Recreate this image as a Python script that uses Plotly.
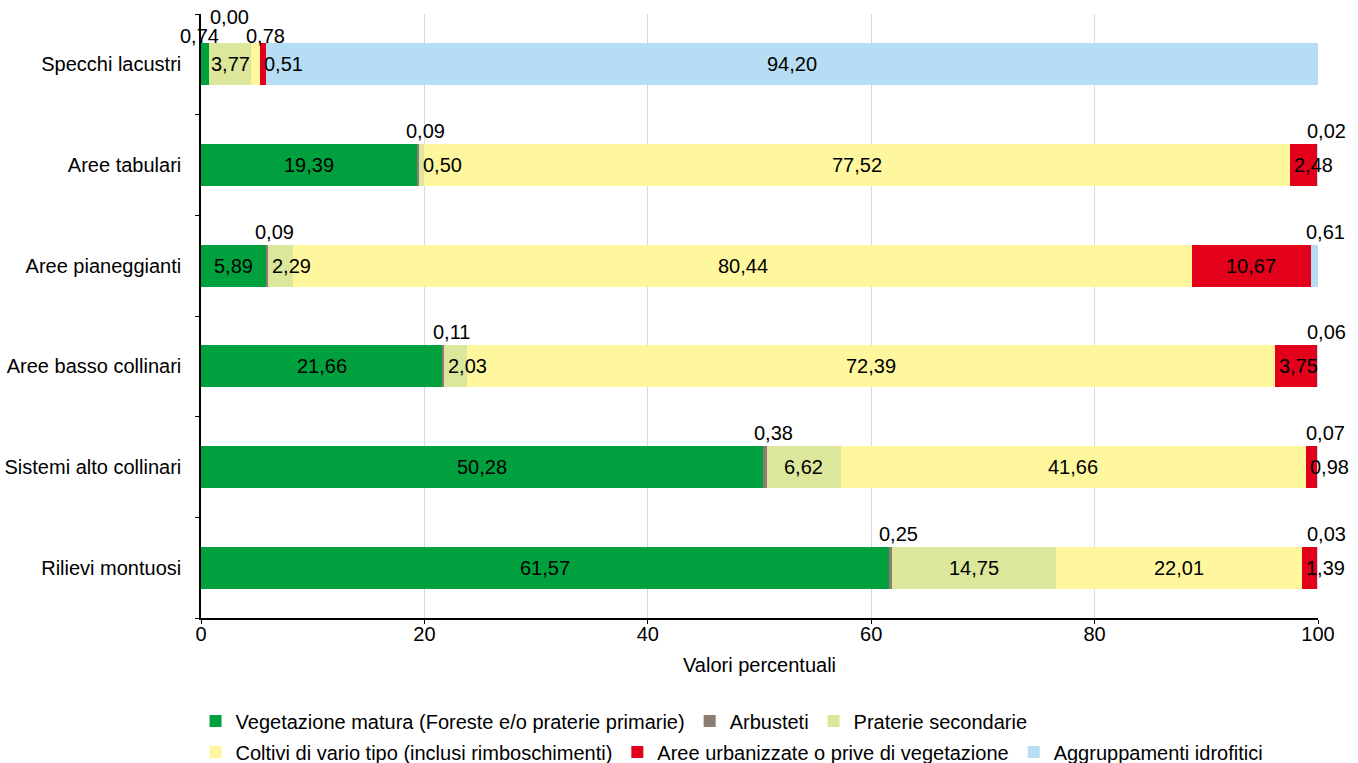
import plotly.graph_objects as go

categories = ["Specchi lacustri", "Aree tabulari", "Aree pianeggianti",
              "Aree basso collinari", "Sistemi alto collinari", "Rilievi montuosi"]
series_names = ["Vegetazione matura (Foreste e/o praterie primarie)", "Arbusteti",
                "Praterie secondarie", "Coltivi di vario tipo (inclusi rimboschimenti)",
                "Aree urbanizzate o prive di vegetazione", "Aggruppamenti idrofitici"]
vegetazione = [0.74, 19.39, 5.89, 21.66, 50.28, 61.57]
arbusteti = [0.00, 0.09, 0.09, 0.11, 0.38, 0.25]
praterie = [3.77, 0.50, 2.29, 2.03, 6.62, 14.75]
coltivi = [0.78, 77.52, 80.44, 72.39, 41.66, 22.01]
urbane = [0.51, 2.48, 10.67, 3.75, 0.98, 1.39]
idrofitici = [94.20, 0.02, 0.61, 0.06, 0.07, 0.03]
x_ticks = [0, 20, 40, 60, 80, 100]

series_values = [vegetazione, arbusteti, praterie, coltivi, urbane, idrofitici]
colors = ["#00A03E", "#8C7D72", "#DCE79B", "#FFF79E", "#E2001A", "#B7DDF4"]

# label placement (style, not data): segments whose label sits above the bar
above = {(0, 0): (-10, 28), (0, 1): (20, 47), (0, 3): (5, 28)}
for r in range(1, 6):
    above[(r, 1)] = (7, 34)
    above[(r, 5)] = (8, 34)

PX_PER_UNIT = 11.17
FS = 20
font_family = "Liberation Sans, Arial, sans-serif"

fig = go.Figure()
for i, (name, vals, col) in enumerate(zip(series_names, series_values, colors)):
    fig.add_trace(go.Bar(
        y=categories, x=vals, name=name, orientation="h",
        marker=dict(color=col, line=dict(width=0)),
        legend="legend" if i < 3 else "legend2",
        hoverinfo="x+name",
    ))

annotations = []
for r, cat in enumerate(categories):
    start = 0.0
    for s in range(6):
        v = series_values[s][r]
        end = start + v
        label = f"{v:.2f}".replace(".", ",")
        fnt = dict(size=FS, color="black", family=font_family)
        if (r, s) in above:
            xs, ys = above[(r, s)]
            annotations.append(dict(x=end, y=cat, xref="x", yref="y", text=label,
                                    showarrow=False, xanchor="center", yanchor="middle",
                                    xshift=xs, yshift=ys, font=fnt))
        elif v * PX_PER_UNIT >= 42:
            annotations.append(dict(x=(start + end) / 2, y=cat, xref="x", yref="y",
                                    text=label, showarrow=False, xanchor="center",
                                    yanchor="middle", font=fnt))
        else:
            annotations.append(dict(x=start, y=cat, xref="x", yref="y",
                                    text=label, showarrow=False, xanchor="left",
                                    yanchor="middle", xshift=2, font=fnt))
        start = end

legend_font = dict(size=FS, color="black", family=font_family)

fig.update_layout(
    barmode="stack",
    bargap=0.585,
    width=1358, height=763,
    margin=dict(l=201, r=40, t=14, b=145, autoexpand=False),
    plot_bgcolor="white", paper_bgcolor="white",
    font=dict(family=font_family, size=FS, color="black"),
    annotations=annotations,
    legend=dict(orientation="h", xref="container", yref="container",
                x=0.144, y=1 - 721 / 763, xanchor="left", yanchor="middle",
                font=legend_font, traceorder="normal", bgcolor="rgba(0,0,0,0)"),
    legend2=dict(orientation="h", xref="container", yref="container",
                 x=0.144, y=1 - 752 / 763, xanchor="left", yanchor="middle",
                 font=legend_font, traceorder="normal", bgcolor="rgba(0,0,0,0)"),
    xaxis=dict(range=[0, 100], tickvals=x_ticks, showgrid=True, gridcolor="#D9D9D9",
               gridwidth=1, showline=True, linecolor="black", linewidth=1.5,
               ticks="outside", ticklen=4, tickcolor="black", zeroline=False,
               automargin=False, ticklabelstandoff=-7,
               title=dict(text="Valori percentuali", standoff=14, font=dict(size=FS)),
               tickfont=dict(size=FS)),
    yaxis=dict(categoryorder="array", categoryarray=categories[::-1],
               range=[-0.5, len(categories) - 0.5],
               showline=True, linecolor="black", linewidth=1.5, automargin=False,
               ticks="outside", ticklen=4, tickcolor="black", tickson="boundaries",
               showgrid=False, tickfont=dict(size=FS), ticklabelstandoff=14),
)

fig.write_html("out.html", config={"displayModeBar": False},
               post_script="document.body.style.margin='0';document.body.style.overflow='hidden';")
